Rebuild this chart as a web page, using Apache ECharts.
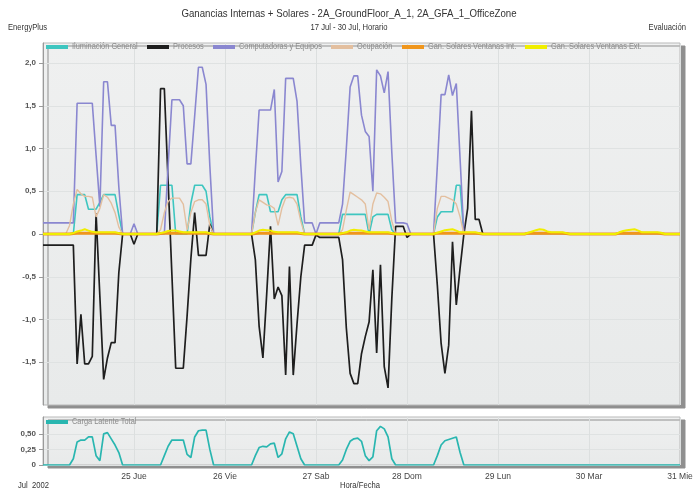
<!DOCTYPE html>
<html>
<head>
<meta charset="utf-8">
<script src="https://cdn.jsdelivr.net/npm/echarts@6/dist/echarts.min.js"></script>
<style>html,body{margin:0;padding:0;background:#fff;}#c{width:698px;height:490px;}</style>
</head>
<body>
<div id="c"></div>
<script>
// Hourly values from 24 Jul 00:00 (index 0) to 31 Jul 00:00 (index 168)
const dayLabels = ['', '25 Jue', '26 Vie', '27 Sab', '28 Dom', '29 Lun', '30 Mar', '31 Mie'];
const yTickValues = [-1.5, -1, -0.5, 0, 0.5, 1, 1.5, 2];
const yTickLabels = ['-1,5', '-1,0', '-0,5', '0', '0,5', '1,0', '1,5', '2,0'];
const latTickValues = [0, 0.25, 0.5];
const latTickLabels = ['0', '0,25', '0,50'];

const iluminacion = [
 0,0,0,0,0,0,0,0,0,0.46,0.46,0.46,0.29,0.29,0.29,0.37,0.46,0.46,0.46,0.46,0.22,0,0,0,
 0,0,0,0,0,0,0,0.57,0.57,0.57,0.57,0,0,0,0,0.36,0.57,0.57,0.57,0.5,0.2,0,0,0,
 0,0,0,0,0,0,0,0,0.25,0.46,0.46,0.46,0.26,0.26,0.26,0.4,0.46,0.46,0.46,0.46,0.2,0,0,0,
 0,0,0,0,0,0,0,0.23,0.23,0.23,0.23,0.23,0.23,0.23,0,0.2,0.23,0.23,0.23,0.23,0.05,0,0,0,
 0,0,0,0,0,0,0,0,0.2,0.26,0.26,0.26,0.26,0.57,0.57,0,0,0,0,0,0,0,0,0,
 0,0,0,0,0,0,0,0,0,0,0,0,0,0,0,0,0,0,0,0,0,0,0,0,
 0,0,0,0,0,0,0,0,0,0,0,0,0,0,0,0,0,0,0,0,0,0,0,0,
 0];
const procesos = [
 -0.13,-0.13,-0.13,-0.13,-0.13,-0.13,-0.13,-0.13,-0.13,-1.52,-0.94,-1.52,-1.52,-1.43,0.24,-0.73,-1.7,-1.45,-1.27,-1.27,-0.45,0,0,0,
 -0.12,0,0,0,0,0,0,1.7,1.7,0.61,-0.48,-1.57,-1.57,-1.57,-0.96,-0.29,0.25,-0.25,-0.25,-0.25,0.12,0,0,0,
 0,0,0,0,0,0,0,0,-0.3,-1.08,-1.45,-0.7,0.09,-0.76,-0.62,-0.72,-1.65,-0.38,-1.65,-1.05,-0.5,-0.13,-0.13,-0.13,
 -0.01,-0.04,-0.04,-0.04,-0.04,-0.04,-0.04,-0.3,-1.1,-1.63,-1.75,-1.75,-1.4,-1.2,-1.03,-0.42,-1.39,-0.36,-1.55,-1.8,-0.75,0.09,0.09,0.09,
 -0.04,0,0,0,0,0,0,0,-0.6,-1.28,-1.63,-1.3,-0.09,-0.83,-0.4,0,0.3,1.44,0.17,0.17,0,0,0,0,
 0,0,0,0,0,0,0,0,0,0,0,0,0,0,0,0,0,0,0,0,0,0,0,0,
 0,0,0,0,0,0,0,0,0,0,0,0,0,0,0,0,0,0,0,0,0,0,0,0,
 0];
const equipos = [
 0.13,0.13,0.13,0.13,0.13,0.13,0.13,0.13,0.13,1.53,1.53,1.53,1.53,1.53,0.92,0.32,1.78,1.78,1.27,1.27,0.55,0,0,0,
 0.12,0,0,0,0,0,0,0,0,0.8,1.57,1.57,1.57,1.5,0.82,0.82,1.38,1.95,1.95,1.75,0.8,0,0,0,
 0,0,0,0,0,0,0,0,0.75,1.45,1.45,1.45,1.45,1.69,0.61,0.73,1.82,1.82,1.82,1.55,0.8,0.13,0.13,0.13,
 0,0.13,0.13,0.13,0.13,0.13,0.13,0.35,1.0,1.72,1.85,1.85,1.39,1.2,1.14,0.5,1.92,1.85,1.65,1.9,0.95,0.13,0.13,0.13,
 0.12,0,0,0,0,0,0,0,0.8,1.63,1.63,1.86,1.62,1.76,0.88,0,0,0,0,0,0,0,0,0,
 0,0,0,0,0,0,0,0,0,0,0,0,0,0,0,0,0,0,0,0,0,0,0,0,
 0,0,0,0,0,0,0,0,0,0,0,0,0,0,0,0,0,0,0,0,0,0,0,0,
 0];
const ocupacion = [
 0,0,0,0,0,0,0,0.1,0.35,0.52,0.47,0.44,0.44,0.43,0.2,0.3,0.46,0.43,0.36,0.25,0.08,0,0,0,
 0,0,0,0,0,0,0,0.05,0.25,0.38,0.42,0.42,0.42,0.35,0.05,0.25,0.38,0.4,0.4,0.35,0.1,0,0,0,
 0,0,0,0,0,0,0,0,0.25,0.4,0.37,0.34,0.33,0.3,0.1,0.3,0.42,0.43,0.42,0.35,0.15,0,0,0,
 0,0,0,0,0,0,0,0.05,0.28,0.49,0.46,0.43,0.4,0.35,0.05,0.35,0.48,0.47,0.43,0.38,0.15,0,0,0,
 0,0,0,0,0,0,0,0,0.3,0.44,0.44,0.42,0.4,0.35,0.2,0,0,0,0,0,0,0,0,0,
 0,0,0,0,0,0,0,0,0,0,0,0,0,0,0,0,0,0,0,0,0,0,0,0,
 0,0,0,0,0,0,0,0,0,0,0,0,0,0,0,0,0,0,0,0,0,0,0,0,
 0];
const solaresInt = [
 0,0,0,0,0,0,0,0,0.005,0.01,0.01,0.01,0.01,0.01,0.01,0.01,0.01,0.01,0.01,0.01,0.005,0,0,0,
 0,0,0,0,0,0,0,0.005,0.01,0.01,0.01,0.01,0.01,0.01,0.01,0.01,0.01,0.01,0.01,0.01,0.005,0,0,0,
 0,0,0,0,0,0,0,0,0.005,0.01,0.01,0.01,0.01,0.01,0.01,0.01,0.01,0.01,0.01,0.01,0.005,0,0,0,
 0,0,0,0,0,0,0,0.005,0.01,0.01,0.01,0.01,0.01,0.01,0.01,0.01,0.01,0.01,0.01,0.01,0.005,0,0,0,
 0,0,0,0,0,0,0,0,0.01,0.01,0.01,0.01,0.01,0.01,0.01,0.01,0.01,0.01,0.01,0.005,0,0,0,0,
 0,0,0,0,0,0,0,0,0.01,0.01,0.01,0.01,0.01,0.01,0.01,0.01,0.01,0.01,0.005,0,0,0,0,0,
 0,0,0,0,0,0,0,0,0.01,0.01,0.01,0.01,0.01,0.01,0.01,0.01,0.01,0.01,0.01,0.005,0,0,0,0,
 0];
const solaresExt = [
 0,0,0,0,0,0,0,0,0.01,0.03,0.04,0.055,0.04,0.025,0.02,0.02,0.02,0.02,0.02,0.02,0.01,0,0,0,
 0,0,0,0,0,0,0,0.01,0.02,0.035,0.04,0.04,0.03,0.02,0.02,0.02,0.02,0.02,0.02,0.02,0.01,0,0,0,
 0,0,0,0,0,0,0,0,0.02,0.04,0.05,0.045,0.04,0.025,0.02,0.02,0.02,0.02,0.02,0.02,0.01,0,0,0,
 0,0,0,0,0,0,0,0.01,0.02,0.04,0.05,0.045,0.04,0.03,0.02,0.02,0.02,0.02,0.02,0.02,0.01,0,0,0,
 0,0,0,0,0,0,0,0,0.015,0.03,0.045,0.05,0.055,0.04,0.02,0.02,0.02,0.02,0.02,0.01,0,0,0,0,
 0,0,0,0,0,0,0,0,0.015,0.03,0.045,0.055,0.05,0.03,0.02,0.02,0.02,0.02,0.01,0,0,0,0,0,
 0,0,0,0,0,0,0,0,0.02,0.035,0.045,0.05,0.055,0.04,0.02,0.02,0.02,0.02,0.02,0.015,0,0,0,0,
 0];
const cargaLatente = [
 0,0,0,0,0,0,0,0,0.1,0.37,0.4,0.4,0.45,0.45,0.15,0.07,0.5,0.52,0.42,0.32,0.2,0,0,0,
 0,0,0,0,0,0,0,0,0.15,0.3,0.4,0.4,0.4,0.4,0.17,0.12,0.45,0.55,0.56,0.56,0.25,0,0,0,
 0,0,0,0,0,0,0,0,0.15,0.28,0.3,0.29,0.34,0.35,0.12,0.18,0.42,0.53,0.5,0.3,0.1,0,0,0,
 0,0,0,0,0,0,0,0.08,0.25,0.38,0.42,0.43,0.38,0.15,0.07,0.13,0.55,0.62,0.58,0.45,0.1,0,0,0,
 0,0,0,0,0,0,0,0,0.15,0.32,0.39,0.41,0.43,0.45,0.2,0,0,0,0,0,0,0,0,0,
 0,0,0,0,0,0,0,0,0,0,0,0,0,0,0,0,0,0,0,0,0,0,0,0,
 0,0,0,0,0,0,0,0,0,0,0,0,0,0,0,0,0,0,0,0,0,0,0,0,
 0];

const FONT = "'Liberation Sans', Arial, sans-serif";
const pairs = arr => arr.map((v, i) => [i, v]);

const mainSeries = [
  { name: 'Iluminación General', data: iluminacion, color: '#3ec6c0', width: 1.6 },
  { name: 'Procesos', data: procesos, color: '#1e1e1e', width: 1.7 },
  { name: 'Computadoras y Equipos', data: equipos, color: '#8a87d0', width: 1.6 },
  { name: 'Ocupación', data: ocupacion, color: '#e3bf9f', width: 1.4 },
  { name: 'Gan. Solares Ventanas Int.', data: solaresInt, color: '#f0961c', width: 3 },
  { name: 'Gan. Solares Ventanas Ext.', data: solaresExt, color: '#f0ee00', width: 2 }
];
const latentName = 'Carga Latente Total';
const latentColor = '#29b6b0';

// condensed text helper (reference uses a narrow typeface)
function ctext(text, x, y, size, fill, align, sx) {
  return { type: 'text', x: x, y: y, scaleX: sx, silent: true, z: 100,
    style: { text: text, fontSize: size, fontFamily: FONT, fill: fill, align: align, verticalAlign: 'middle' } };
}
function legendItem(name, color, x, y) {
  return [
    { type: 'rect', shape: { x: x, y: y - 2, width: 22, height: 4 }, style: { fill: color }, silent: true, z: 100 },
    ctext(name, x + 26, y, 9, '#8c8c8c', 'left', 0.82)
  ];
}
const legendX = [46, 147, 213, 331, 402, 525];

const graphics = [
  ctext('Ganancias Internas + Solares - 2A_GroundFloor_A_1, 2A_GFA_1_OfficeZone', 349, 14, 11.5, '#333', 'center', 0.84),
  ctext('17 Jul - 30 Jul, Horario', 349, 28, 9, '#333', 'center', 0.85),
  ctext('EnergyPlus', 8, 28, 9, '#333', 'left', 0.85),
  ctext('Evaluación', 686, 28, 9, '#333', 'right', 0.85),
  ctext('Jul  2002', 18, 486, 9, '#333', 'left', 0.85),
  ctext('Hora/Fecha', 340, 486, 9, '#333', 'left', 0.85)
];
mainSeries.forEach((s, i) => { graphics.push(...legendItem(s.name, s.color, legendX[i], 47)); });
graphics.push(...legendItem(latentName, latentColor, 46, 422));

const chart = echarts.init(document.getElementById('c'), null, { renderer: 'canvas' });

const bg = new echarts.graphic.LinearGradient(0, 0, 0, 1, [
  { offset: 0, color: '#eff0f0' }, { offset: 1, color: '#e8eaea' }
]);

function labelFor(values, labels) {
  return v => { for (let i = 0; i < values.length; i++) { if (Math.abs(values[i] - v) < 1e-6) return labels[i]; } return ''; };
}

const option = {
  backgroundColor: '#ffffff',
  animation: false,
  textStyle: { fontFamily: FONT },
  graphic: graphics,
  grid: [
    { left: 43, top: 43, width: 637, height: 362, show: true, backgroundColor: bg,
      borderColor: '#b9b9b9', borderWidth: 1, shadowColor: '#8f8f8f', shadowBlur: 0, shadowOffsetX: 5, shadowOffsetY: 3 },
    { left: 43, top: 417, width: 637, height: 48, show: true, backgroundColor: bg,
      borderColor: '#b9b9b9', borderWidth: 1, shadowColor: '#8f8f8f', shadowBlur: 0, shadowOffsetX: 5, shadowOffsetY: 3 }
  ],
  xAxis: [
    { gridIndex: 0, type: 'value', min: 0, max: 168, interval: 24,
      axisLine: { show: false }, axisTick: { show: false }, axisLabel: { show: false },
      splitLine: { show: true, lineStyle: { color: '#dcdfdf', width: 1 } } },
    { gridIndex: 1, type: 'value', min: 0, max: 168, interval: 24,
      axisLine: { show: false }, axisTick: { show: false },
      axisLabel: { show: true, showMinLabel: false, showMaxLabel: true, margin: 7, fontSize: 8.5, color: '#444', fontFamily: FONT,
        formatter: v => dayLabels[Math.round(v / 24)] || '' },
      splitLine: { show: true, lineStyle: { color: '#dcdfdf', width: 1 } } }
  ],
  yAxis: [
    { gridIndex: 0, type: 'value', min: -2, max: 2.234, interval: 0.5,
      axisLine: { show: true, lineStyle: { color: '#9a9a9a' } },
      axisTick: { show: true, length: 4, customValues: yTickValues, lineStyle: { color: '#9a9a9a' } },
      axisLabel: { margin: 7, fontSize: 8, fontWeight: 'bold', color: '#555', fontFamily: FONT,
        formatter: labelFor(yTickValues, yTickLabels) },
      splitLine: { show: true, lineStyle: { color: '#dfe2e2' } } },
    { gridIndex: 1, type: 'value', min: 0, max: 0.77, interval: 0.25,
      axisLine: { show: true, lineStyle: { color: '#9a9a9a' } },
      axisTick: { show: true, length: 4, customValues: latTickValues, lineStyle: { color: '#9a9a9a' } },
      axisLabel: { margin: 7, fontSize: 8, fontWeight: 'bold', color: '#555', fontFamily: FONT,
        formatter: labelFor(latTickValues, latTickLabels) },
      splitLine: { show: true, lineStyle: { color: '#dfe2e2' } } }
  ],
  series: mainSeries.map(s => ({
    name: s.name, type: 'line', xAxisIndex: 0, yAxisIndex: 0, data: pairs(s.data),
    showSymbol: false, symbol: 'none', color: s.color,
    lineStyle: { color: s.color, width: s.width }, z: 2
  })).concat([{
    name: latentName, type: 'line', xAxisIndex: 1, yAxisIndex: 1, data: pairs(cargaLatente),
    showSymbol: false, symbol: 'none', color: latentColor,
    lineStyle: { color: latentColor, width: 1.7 }
  }])
};
chart.setOption(option);
</script>
</body>
</html>
